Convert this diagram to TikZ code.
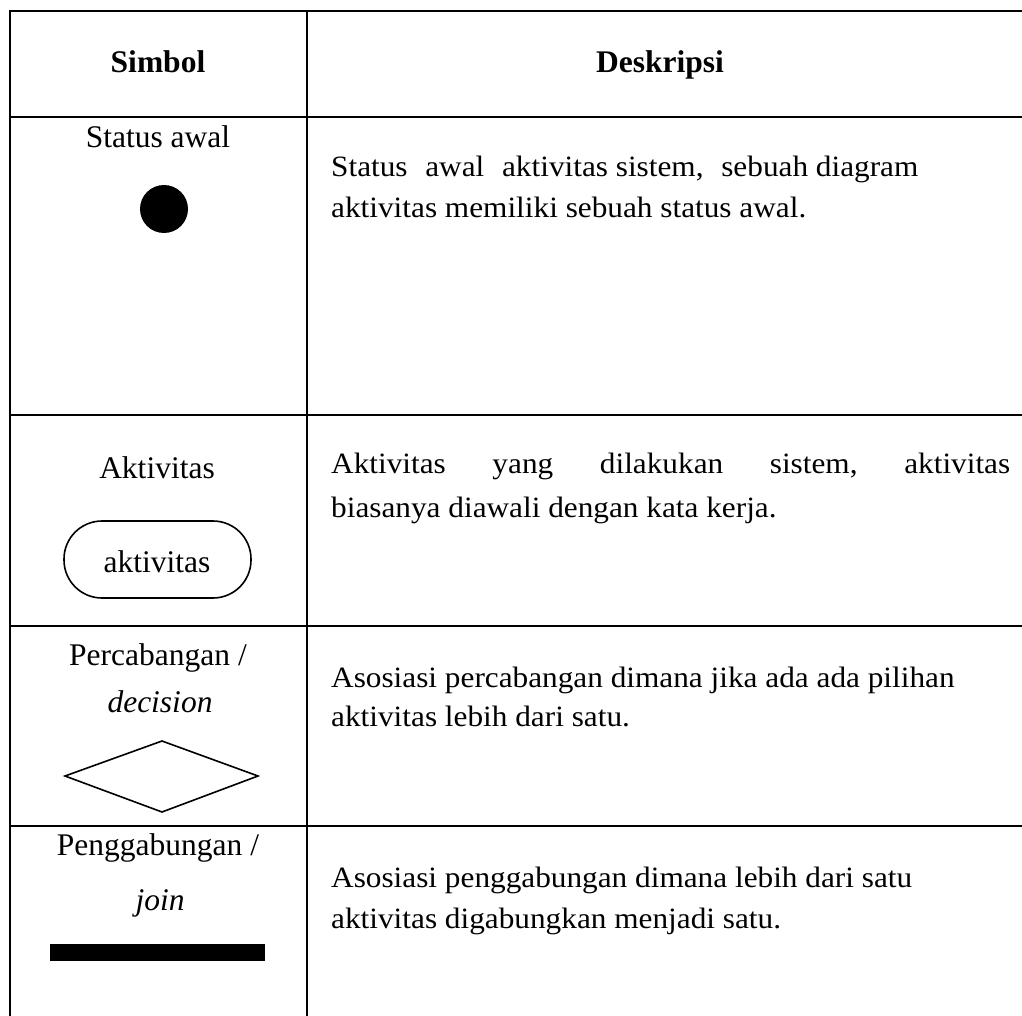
\documentclass[tikz,border=0pt]{standalone}
\usepackage{fontspec}
\setmainfont{Liberation Serif}
\newfontfamily\descfont[FakeStretch=1.06]{Liberation Serif}
\begin{document}
\begin{tikzpicture}[x=1pt,y=-1pt,
  rule/.style={line width=2.6pt},
  txt/.style={inner sep=0pt,font=\fontsize{31.5}{40}\selectfont},
  head/.style={txt,font=\fontsize{31.5}{40}\selectfont\bfseries},
  desc/.style={inner sep=0pt,anchor=base west,font=\fontsize{29.5}{40}\descfont},
  lbl/.style={txt,anchor=base}]
\useasboundingbox (0,0) rectangle (1022,1016);

% table rules
\draw[rule] (10,11) -- (1022,11);
\draw[rule] (10,117) -- (1022,117);
\draw[rule] (10,415) -- (1022,415);
\draw[rule] (10,626) -- (1022,626);
\draw[rule] (10,826) -- (1022,826);
\draw[rule] (10,9.7) -- (10,1016);
\draw[rule] (307,9.7) -- (307,1016);

% header
\node[head,anchor=base] (hsym) at (158,73) {Simbol};
\node[head,anchor=base] (hdesc) at (660,73) {Deskripsi};

% row 1: initial state
\node[lbl] (l1) at (158,148) {Status awal};
\fill (164,209) circle (24);
\node[desc] (d1a) at (331,177) {Status\hspace{0.6em}awal\hspace{0.6em}aktivitas sistem,\hspace{0.6em}sebuah diagram};
\node[desc] (d1b) at (331,218) {aktivitas memiliki sebuah status awal.};

% row 2: activity
\node[lbl] (l2) at (157,478) {Aktivitas};
\node[txt,draw,line width=1.6pt,rounded corners=38pt,minimum width=187pt,minimum height=77pt] (act) at (157.5,559.5) {};
\node[lbl] (actt) at (157,572) {aktivitas};
\node[desc] (d2a) at (331,473) {\makebox[679pt][s]{Aktivitas\hfill yang\hfill dilakukan\hfill sistem,\hfill aktivitas}};
\node[desc] (d2b) at (331,517) {biasanya diawali dengan kata kerja.};

% row 3: decision
\node[lbl] (l3a) at (158,665) {Percabangan /};
\node[lbl] (l3b) at (160,712) {\itshape decision};
\draw[line width=1.6pt,line join=miter] (162,741) -- (258,776) -- (162,812) -- (65,776) -- cycle;
\node[desc] (d3a) at (331,687) {Asosiasi percabangan dimana jika ada ada pilihan};
\node[desc] (d3b) at (331,726) {aktivitas lebih dari satu.};

% row 4: join
\node[lbl] (l4a) at (158,855) {Penggabungan /};
\node[lbl] (l4b) at (160,910) {\itshape join};
\fill (50,944) rectangle (265,961);
\node[desc] (d4a) at (331,887) {Asosiasi penggabungan dimana lebih dari satu};
\node[desc] (d4b) at (331,928) {aktivitas digabungkan menjadi satu.};
\end{tikzpicture}
\end{document}
